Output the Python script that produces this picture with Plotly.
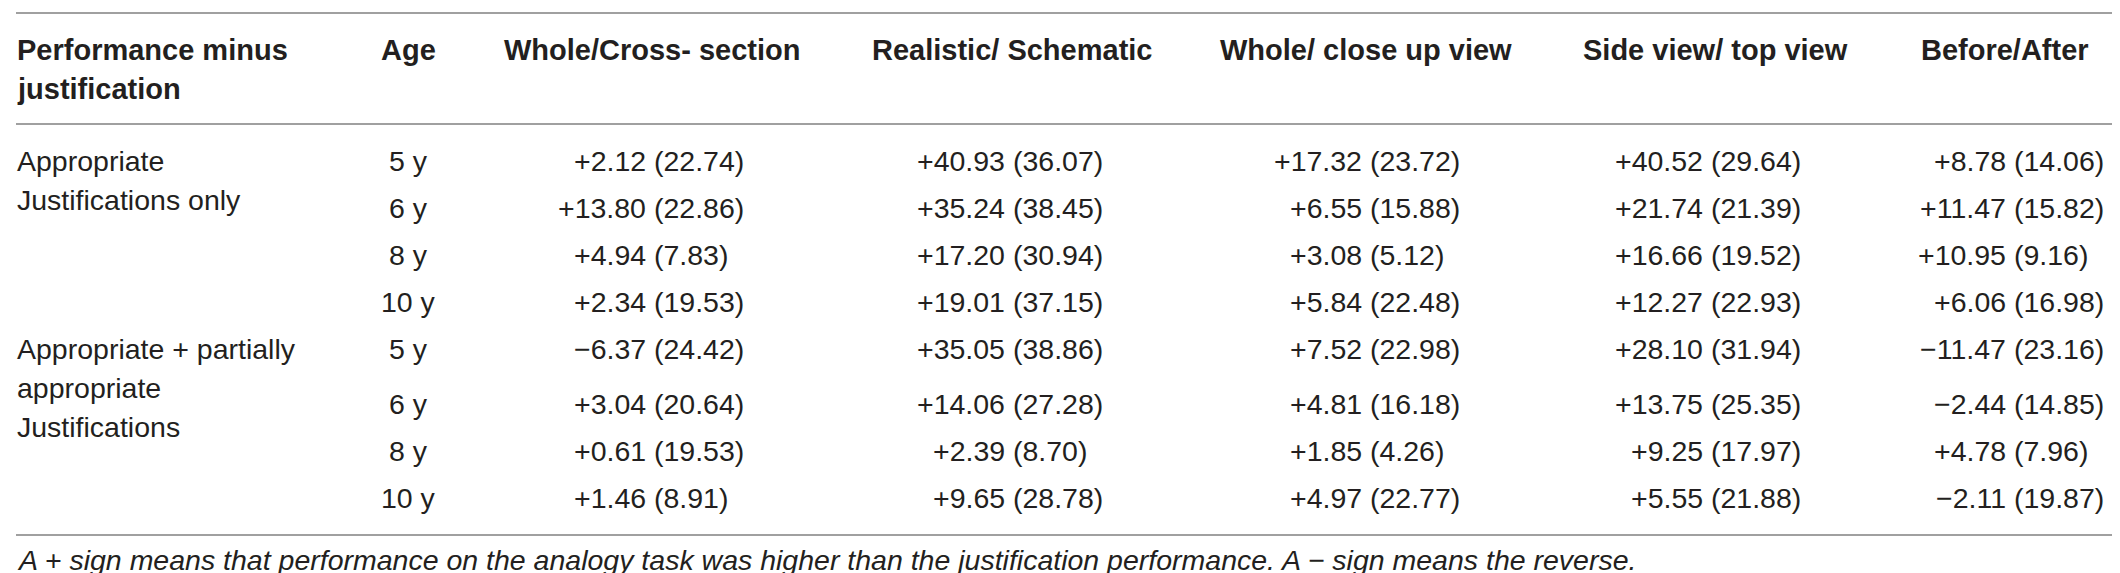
import plotly.graph_objects as go

# table content
col_headers = ["Whole/Cross- section", "Realistic/ Schematic", "Whole/ close up view",
               "Side view/ top view", "Before/After"]
ages = ["5 y", "6 y", "8 y", "10 y", "5 y", "6 y", "8 y", "10 y"]
group_labels = [["Appropriate", "Justifications only"],
                ["Appropriate + partially", "appropriate", "Justifications"]]

whole_cross_mean = [2.12, 13.80, 4.94, 2.34, -6.37, 3.04, 0.61, 1.46]
whole_cross_sd = [22.74, 22.86, 7.83, 19.53, 24.42, 20.64, 19.53, 8.91]
realistic_mean = [40.93, 35.24, 17.20, 19.01, 35.05, 14.06, 2.39, 9.65]
realistic_sd = [36.07, 38.45, 30.94, 37.15, 38.86, 27.28, 8.70, 28.78]
closeup_mean = [17.32, 6.55, 3.08, 5.84, 7.52, 4.81, 1.85, 4.97]
closeup_sd = [23.72, 15.88, 5.12, 22.48, 22.98, 16.18, 4.26, 22.77]
sidetop_mean = [40.52, 21.74, 16.66, 12.27, 28.10, 13.75, 9.25, 5.55]
sidetop_sd = [29.64, 21.39, 19.52, 22.93, 31.94, 25.35, 17.97, 21.88]
beforeafter_mean = [8.78, 11.47, 10.95, 6.06, -11.47, -2.44, 4.78, -2.11]
beforeafter_sd = [14.06, 15.82, 9.16, 16.98, 23.16, 14.85, 7.96, 19.87]

footnote = ("<i>A + sign means that performance on the analogy task was higher than the "
            "justification performance. A \u2212 sign means the reverse.</i>")

means = [whole_cross_mean, realistic_mean, closeup_mean, sidetop_mean, beforeafter_mean]
sds = [whole_cross_sd, realistic_sd, closeup_sd, sidetop_sd, beforeafter_sd]

# layout (pixels, axes map 1:1 onto the page)
W, H = 2120, 573
FONT = "Liberation Sans"
INK = "#231f20"
BODY = 28.5
HEAD = 29
header_x = [644, 1004, 1358, 1707, 1997]
split_x = [645, 1004, 1361, 1702, 2005]
age_x = 400
left_x = 8
header_y = [42, 81]
row_y = [153 + 47 * i + (8 if i > 4 else 0) for i in range(len(ages))]
label_gap = 39
rules_y = [5, 116, 527]


def fmt_mean(v):
    return ("+" if v >= 0 else "\u2212") + f"{abs(v):.2f}"


ann = []


def txt(x, y, s, anchor, size=BODY, bold=False):
    ann.append(dict(x=x, y=y, xref="x", yref="y", text=f"<b>{s}</b>" if bold else s,
                    showarrow=False, xanchor=anchor, yanchor="middle", borderpad=0,
                    font=dict(family=FONT, size=size, color=INK)))


# header
txt(left_x, header_y[0], "Performance minus", "left", HEAD, True)
txt(left_x, header_y[1], "justification", "left", HEAD, True)
txt(age_x, header_y[0], "Age", "center", HEAD, True)
for hx, h in zip(header_x, col_headers):
    txt(hx, header_y[0], h, "center", HEAD, True)

# group labels
for g, lines in enumerate(group_labels):
    y0 = row_y[g * 4]
    for k, line in enumerate(lines):
        txt(left_x, y0 + k * label_gap, line, "left")

# body
for r, age in enumerate(ages):
    txt(age_x, row_y[r], age, "center")
    for c in range(len(means)):
        txt(split_x[c] - 6, row_y[r], fmt_mean(means[c][r]), "right")
        txt(split_x[c], row_y[r], f"({sds[c][r]:.2f})", "left")

txt(left_x, 552, footnote, "left")

shapes = [dict(type="line", xref="x", yref="y", x0=8, x1=2115, y0=y, y1=y,
               line=dict(color="#a0a0a0", width=2)) for y in rules_y]

fig = go.Figure()
fig.update_layout(
    width=W, height=H, margin=dict(l=0, r=0, t=0, b=0),
    paper_bgcolor="white", plot_bgcolor="white",
    xaxis=dict(range=[0, W], visible=False, fixedrange=True),
    yaxis=dict(range=[H, 0], visible=False, fixedrange=True),
    annotations=ann, shapes=shapes, showlegend=False,
)

fig.write_html("out.html")
